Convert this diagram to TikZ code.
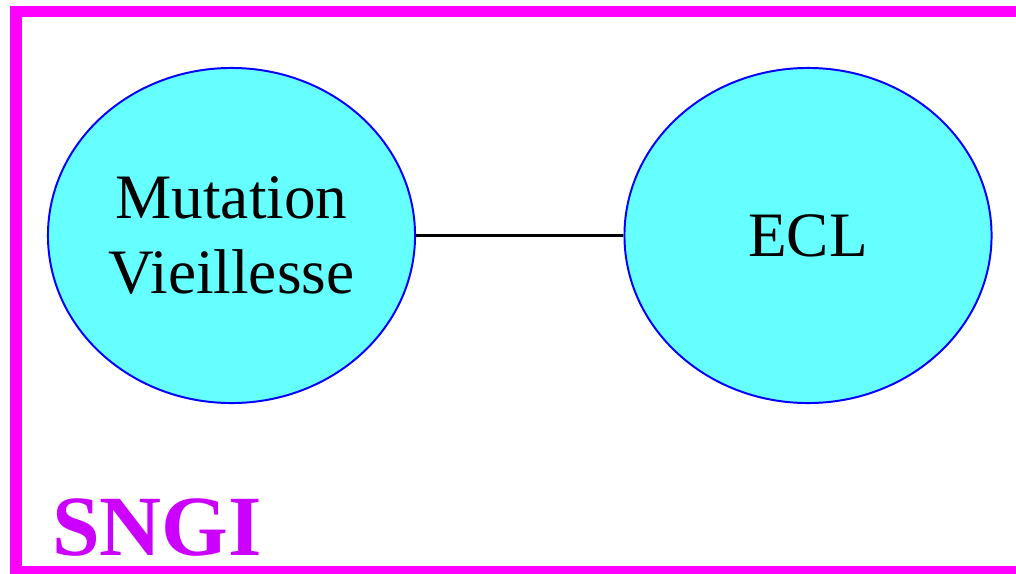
\documentclass[tikz,border=0pt]{standalone}
\usepackage{fontspec}
\setmainfont{Liberation Serif}
\usetikzlibrary{shapes.geometric}
\definecolor{m1}{RGB}{255, 0, 255}
\definecolor{m2}{RGB}{204, 0, 255}
\definecolor{c1}{RGB}{102, 255, 255}

\begin{document}
\begin{tikzpicture}[x=0.025cm, y=-0.025cm]
    \tikzstyle{module}=[ellipse, draw=blue, fill=c1, line width=1.4pt,
    minimum width=9.175cm, minimum height=8.375cm, inner sep=0pt, align=center,
    font=\fontsize{45}{54}\selectfont]

    % Fix the page size
    \useasboundingbox (0, 0) rectangle (1016, 573);

    % Draw the frame (open on the right)
    \draw [line width=8.3pt, color=m1] (1040, 11.5) -- (16, 11.5) -- (16, 571.5) -- (1040, 571.5);

    % Frame label
    \node [anchor=base west, inner sep=0pt, color=m2, font=\fontsize{61}{61}\selectfont\bfseries] (sngi) at (52, 555) {SNGI};

    % Draw the modules
    \node [module] (mv) at (231.5, 235.5) {Mutation\\Vieillesse};
    \node [module] (ecl) at (808, 235.5) {ECL};

    % Draw the link
    \draw [line width=1.6pt, color=black] (mv) -- (ecl);

  \end{tikzpicture}
\end{document}
